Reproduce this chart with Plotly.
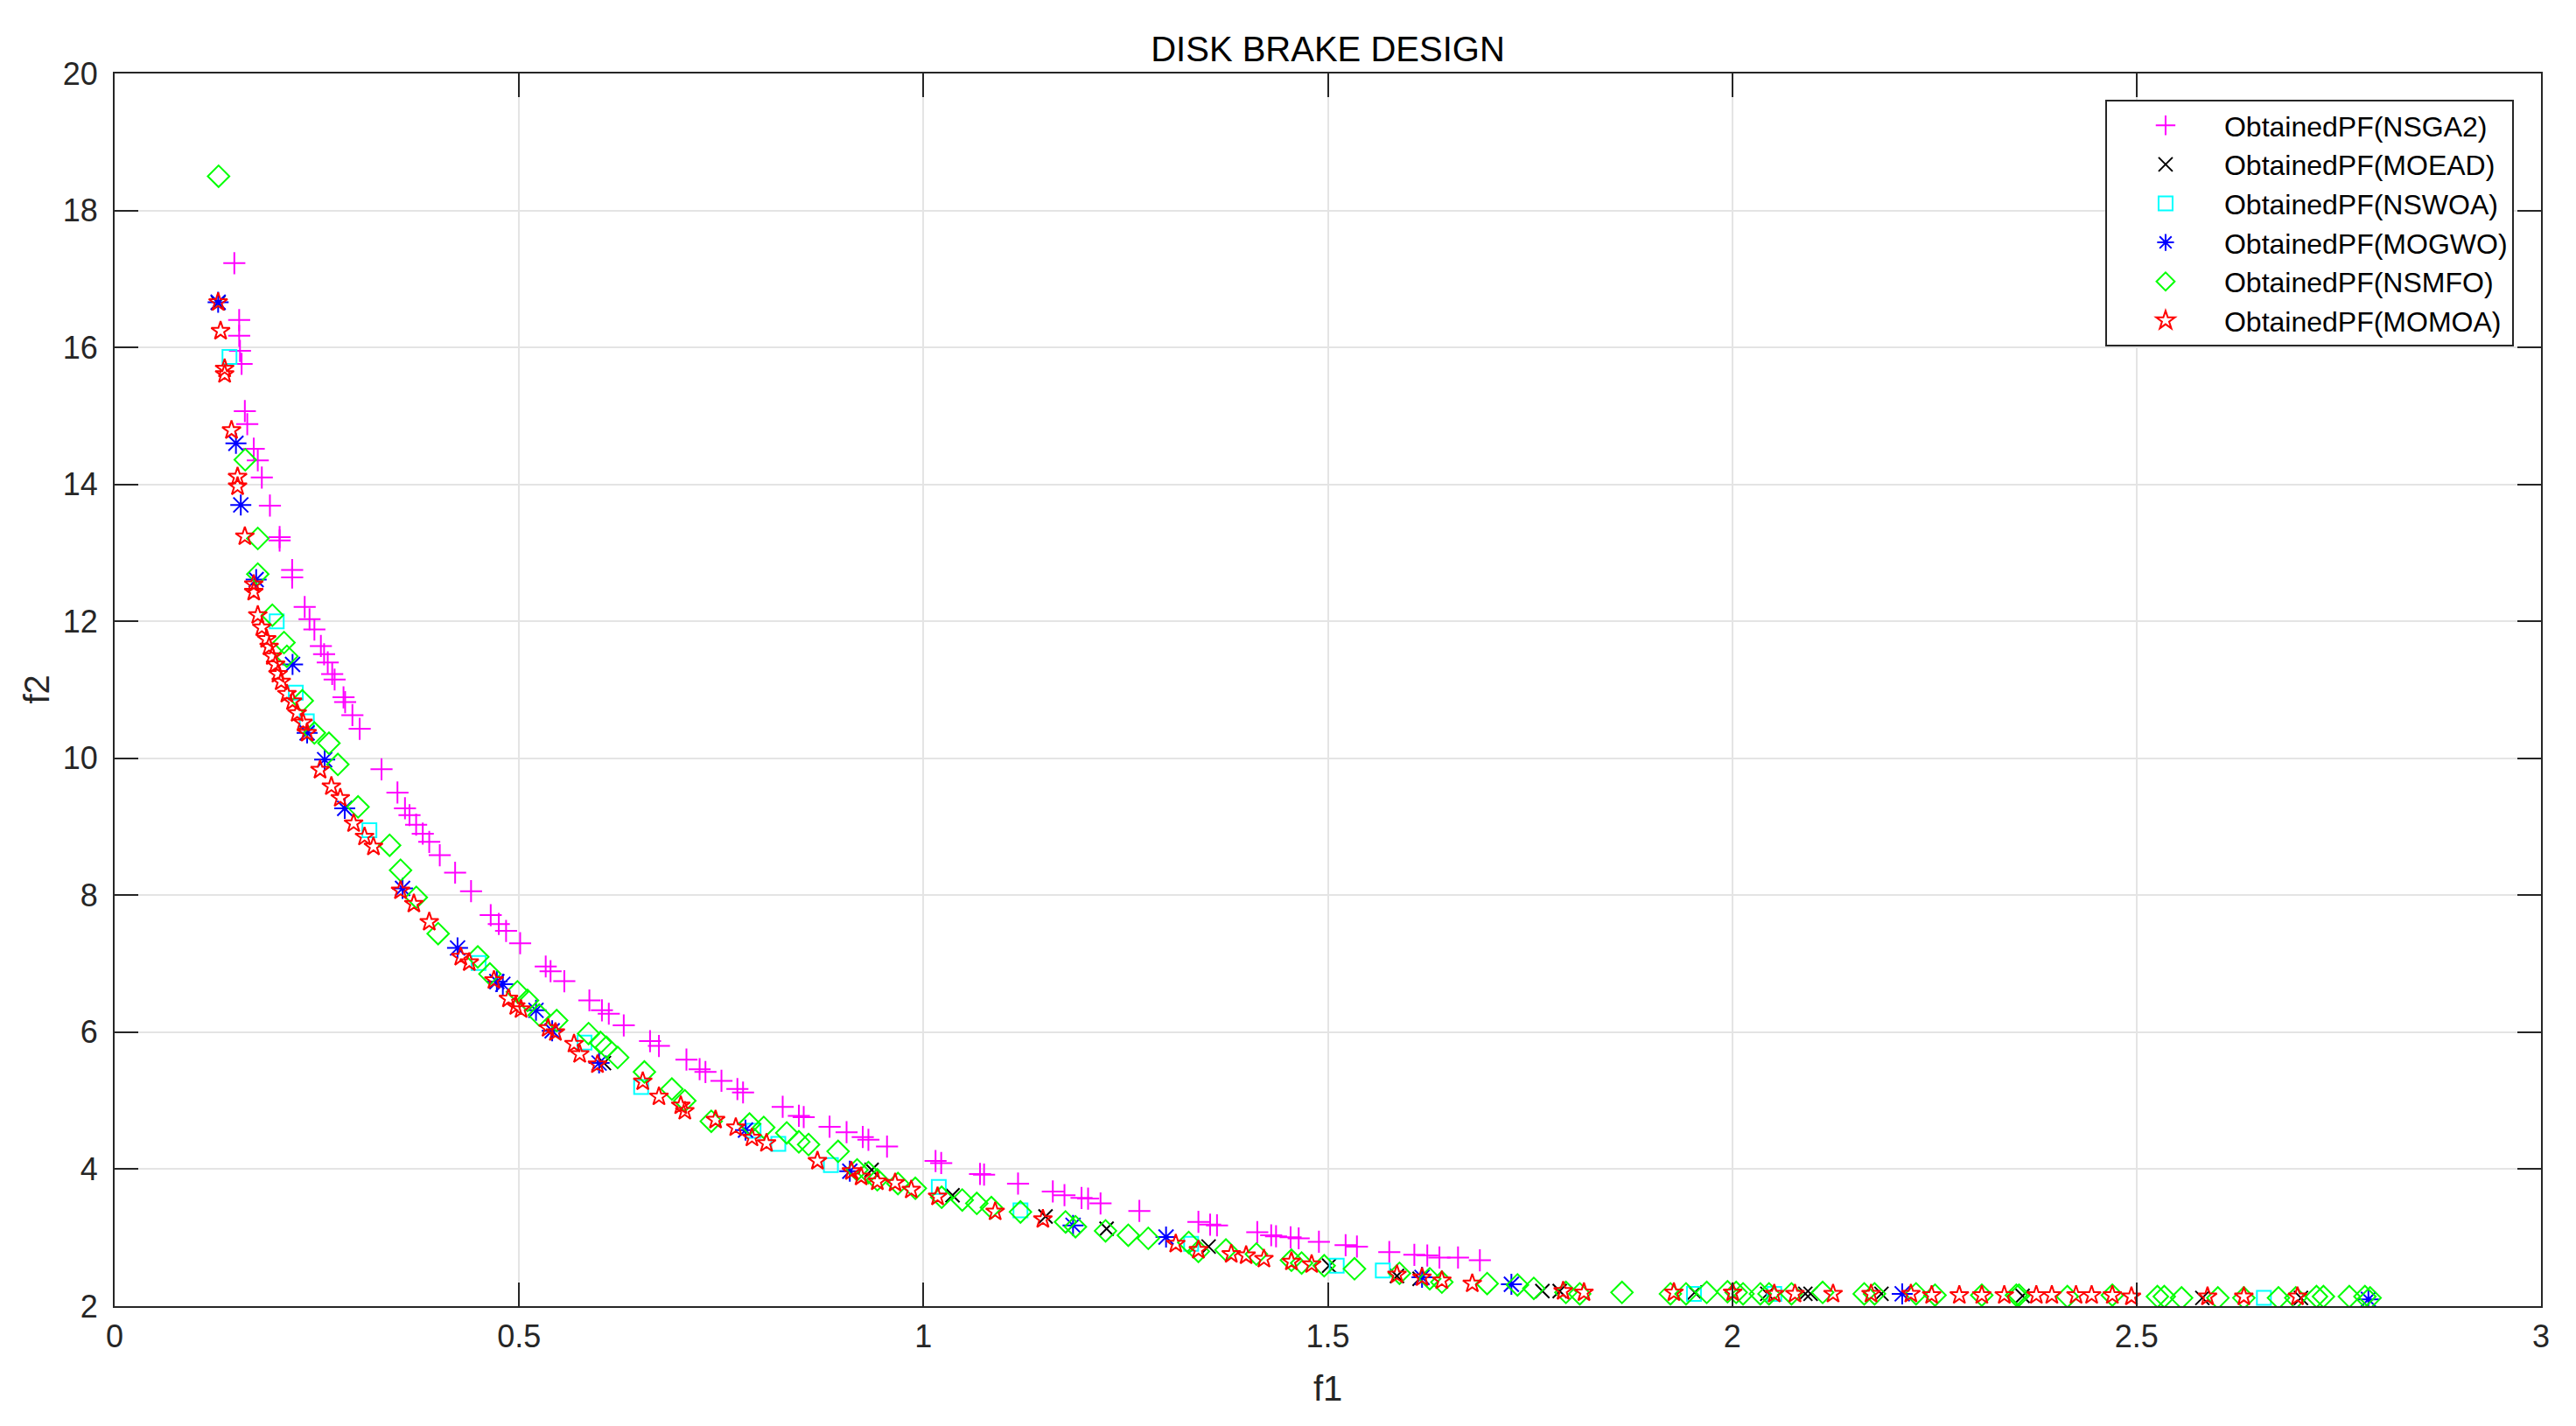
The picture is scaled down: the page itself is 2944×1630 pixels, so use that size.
import plotly.graph_objects as go

# ---------------- data ----------------
nsga2_f1 = [0.148, 0.154, 0.154, 0.155, 0.157, 0.161, 0.164, 0.172, 0.177, 0.182, 0.192, 0.204, 0.204,
            0.2195, 0.2195, 0.235, 0.241, 0.247, 0.255, 0.259, 0.2635, 0.269, 0.272, 0.283, 0.285, 0.294,
            0.303, 0.330, 0.3497, 0.359, 0.3646, 0.3728, 0.381, 0.389, 0.402, 0.421, 0.4407, 0.465, 0.475,
            0.484, 0.5014, 0.533, 0.539, 0.556, 0.587, 0.6025, 0.611, 0.6295, 0.662, 0.673, 0.707, 0.7233,
            0.7305, 0.7503, 0.770, 0.777, 0.826, 0.846, 0.852, 0.884, 0.905, 0.925, 0.932, 0.955, 1.015,
            1.022, 1.070, 1.075, 1.117, 1.160, 1.1744, 1.1955, 1.2036, 1.219, 1.267, 1.340, 1.3545, 1.363,
            1.4128, 1.430, 1.436, 1.454, 1.464, 1.489, 1.522, 1.536, 1.576, 1.607, 1.623, 1.638, 1.661, 1.688]
nsga2_f2 = [17.23, 16.40, 16.17, 15.95, 15.76, 15.07, 14.88, 14.52, 14.35, 14.10, 13.69, 13.23, 13.18,
            12.75, 12.64, 12.21, 12.03, 11.88, 11.64, 11.52, 11.40, 11.23, 11.15, 10.89, 10.82, 10.63,
            10.43, 9.84, 9.50, 9.27, 9.17, 9.03, 8.90, 8.78, 8.585, 8.33, 8.06, 7.71, 7.58,
            7.48, 7.30, 6.96, 6.89, 6.745, 6.465, 6.32, 6.27, 6.10, 5.87, 5.80, 5.60, 5.46,
            5.42, 5.29, 5.17, 5.12, 4.91, 4.78, 4.76, 4.62, 4.54, 4.47, 4.43, 4.33, 4.12,
            4.09, 3.93, 3.92, 3.79, 3.675, 3.62, 3.58, 3.57, 3.50, 3.39, 3.23, 3.19, 3.18,
            3.08, 3.035, 3.02, 3.005, 2.99, 2.94, 2.89, 2.87, 2.79, 2.75, 2.74, 2.71, 2.71, 2.67]

moead_f1 = [0.128, 0.605, 0.936, 1.036, 1.151, 1.2265, 1.3526, 1.5016, 1.5855, 1.6135, 1.7653, 1.7867,
            1.9536, 2.0434, 2.0904, 2.0969, 2.1845, 2.359, 2.5813, 2.7032]
moead_f2 = [16.65, 5.55, 3.99, 3.62, 3.31, 3.13, 2.87, 2.59, 2.44, 2.40, 2.22, 2.22,
            2.20, 2.18, 2.18, 2.18, 2.18, 2.15, 2.12, 2.12]

nswoa_f1 = [0.142, 0.2004, 0.224, 0.2376, 0.315, 0.450, 0.581, 0.651, 0.790, 0.8206, 0.8856, 1.019,
            1.12, 1.331, 1.511, 1.568, 1.9527, 2.052, 2.6574]
nswoa_f2 = [15.86, 12.0, 10.96, 10.54, 8.95, 7.01, 5.85, 5.20, 4.56, 4.37, 4.06, 3.74,
            3.40, 2.91, 2.59, 2.52, 2.18, 2.18, 2.12]

mogwo_f1 = [0.128, 0.150, 0.156, 0.175, 0.220, 0.238, 0.2597, 0.2845, 0.356, 0.424, 0.4726, 0.480,
            0.521, 0.541, 0.599, 0.78, 0.909, 1.185, 1.300, 1.6165, 1.727, 2.2102, 2.7866]
mogwo_f2 = [16.66, 14.60, 13.70, 12.61, 11.37, 10.37, 9.98, 9.27, 8.10, 7.23, 6.74, 6.70,
            6.32, 6.02, 5.55, 4.57, 3.97, 3.18, 3.01, 2.42, 2.32, 2.18, 2.10]

nsmfo_f1 = [0.1285, 0.1615, 0.177, 0.177, 0.195, 0.2094, 0.213, 0.232, 0.247, 0.265, 0.276, 0.301,
            0.340, 0.3535, 0.373, 0.400, 0.449, 0.464, 0.498, 0.5105, 0.525, 0.5466, 0.586, 0.6007,
            0.608, 0.622, 0.655, 0.689, 0.705, 0.7377, 0.785, 0.8026, 0.831, 0.846, 0.858, 0.8945,
            0.918, 0.932, 0.943, 0.9685, 0.990, 1.0226, 1.048, 1.066, 1.084, 1.120, 1.1757, 1.188,
            1.2252, 1.2533, 1.278, 1.328, 1.340, 1.374, 1.4117, 1.455, 1.4676, 1.4955, 1.533, 1.5886,
            1.626, 1.641, 1.697, 1.7345, 1.7547, 1.7944, 1.8115, 1.8637, 1.9236, 1.9429, 1.9685, 1.9942,
            2.0049, 2.0134, 2.0348, 2.0455, 2.0733, 2.1118, 2.1632, 2.176, 2.2273, 2.2508, 2.3086, 2.3513,
            2.3546, 2.4144, 2.470, 2.5257, 2.5342, 2.5556, 2.6005, 2.6326, 2.6754, 2.6968, 2.7224, 2.731,
            2.763, 2.7823, 2.7887]
nsmfo_f2 = [18.50, 14.36, 13.21, 12.69, 12.09, 11.69, 11.49, 10.84, 10.37, 10.22, 9.91, 9.29,
            8.73, 8.365, 7.97, 7.44, 7.10, 6.85, 6.59, 6.465, 6.25, 6.17, 5.98, 5.85,
            5.78, 5.63, 5.42, 5.17, 5.00, 4.70, 4.66, 4.61, 4.53, 4.40, 4.36, 4.26,
            3.99, 3.95, 3.845, 3.79, 3.72, 3.59, 3.55, 3.50, 3.44, 3.375, 3.23, 3.16,
            3.10, 3.035, 2.99, 2.93, 2.80, 2.82, 2.76, 2.67, 2.63, 2.59, 2.545, 2.48,
            2.40, 2.35, 2.33, 2.31, 2.26, 2.20, 2.18, 2.20, 2.18, 2.18, 2.20, 2.21,
            2.20, 2.18, 2.18, 2.18, 2.18, 2.20, 2.18, 2.18, 2.18, 2.16, 2.16, 2.16,
            2.16, 2.14, 2.16, 2.14, 2.14, 2.12, 2.12, 2.12, 2.12, 2.12, 2.14, 2.14,
            2.14, 2.14, 2.12]

momoa_f1 = [0.128, 0.131, 0.136, 0.136, 0.1445, 0.152, 0.152, 0.161, 0.172, 0.172, 0.177, 0.182,
            0.188, 0.191, 0.195, 0.199, 0.202, 0.206, 0.213, 0.220, 0.2257, 0.233, 0.238, 0.254,
            0.268, 0.279, 0.2955, 0.309, 0.320, 0.3535, 0.370, 0.389, 0.428, 0.4385, 0.469, 0.487,
            0.496, 0.5025, 0.536, 0.545, 0.568, 0.575, 0.597, 0.653, 0.673, 0.700, 0.705, 0.743,
            0.768, 0.788, 0.806, 0.869, 0.911, 0.923, 0.943, 0.965, 0.985, 1.0175, 1.0887, 1.1477,
            1.312, 1.340, 1.3806, 1.399, 1.421, 1.455, 1.480, 1.5855, 1.6165, 1.641, 1.6786, 1.791,
            1.8167, 1.9279, 2.0006, 2.052, 2.0776, 2.1247, 2.1717, 2.2209, 2.2466, 2.2808, 2.3086, 2.3364,
            2.376, 2.3952, 2.4251, 2.4444, 2.470, 2.4936, 2.5877, 2.6326, 2.6989]
momoa_f2 = [16.66, 16.24, 15.69, 15.61, 14.79, 14.11, 13.97, 13.24, 12.54, 12.43, 12.09, 11.91,
            11.74, 11.63, 11.49, 11.37, 11.23, 11.12, 10.94, 10.83, 10.66, 10.52, 10.37, 9.83,
            9.59, 9.42, 9.05, 8.855, 8.71, 8.07, 7.875, 7.61, 7.10, 7.02, 6.76, 6.49,
            6.38, 6.335, 6.06, 6.00, 5.83, 5.68, 5.53, 5.28, 5.06, 4.93, 4.85, 4.72,
            4.61, 4.46, 4.38, 4.12, 3.97, 3.89, 3.82, 3.80, 3.70, 3.60, 3.38, 3.27,
            2.91, 2.82, 2.76, 2.74, 2.69, 2.65, 2.61, 2.46, 2.42, 2.375, 2.33, 2.22,
            2.20, 2.20, 2.20, 2.18, 2.18, 2.18, 2.18, 2.18, 2.16, 2.16, 2.16, 2.16,
            2.16, 2.16, 2.16, 2.16, 2.16, 2.14, 2.14, 2.14, 2.14]

series_names = ["ObtainedPF(NSGA2)", "ObtainedPF(MOEAD)", "ObtainedPF(NSWOA)",
                "ObtainedPF(MOGWO)", "ObtainedPF(NSMFO)", "ObtainedPF(MOMOA)"]

x_ticks = [0, 0.5, 1, 1.5, 2, 2.5, 3]
x_tick_labels = ["0", "0.5", "1", "1.5", "2", "2.5", "3"]
y_ticks = [2, 4, 6, 8, 10, 12, 14, 16, 18, 20]
y_tick_labels = ["2", "4", "6", "8", "10", "12", "14", "16", "18", "20"]

# ---------------- styles ----------------
FONT = "Liberation Sans, Arial, Helvetica, sans-serif"
styles = [
    dict(symbol="cross-thin-open", color="#FF00FF", size=18),
    dict(symbol="x-thin-open", color="#000000", size=16),
    dict(symbol="square-open", color="#00FFFF", size=16),
    dict(symbol="asterisk-open", color="#0000FF", size=20),
    dict(symbol="diamond-open", color="#00FF00", size=19),
    dict(symbol="star-open", color="#FF0000", size=16),
]
data = [(nsga2_f1, nsga2_f2), (moead_f1, moead_f2), (nswoa_f1, nswoa_f2),
        (mogwo_f1, mogwo_f2), (nsmfo_f1, nsmfo_f2), (momoa_f1, momoa_f2)]

fig = go.Figure()
for name, (xs, ys), st in zip(series_names, data, styles):
    fig.add_trace(go.Scatter(
        x=xs, y=ys, mode="markers", name=name,
        marker=dict(symbol=st["symbol"], size=st["size"], color=st["color"],
                    line=dict(color=st["color"], width=2)),
    ))

axis_common = dict(
    showgrid=True, gridcolor="#e4e4e4", gridwidth=2,
    showline=True, linecolor="#262626", linewidth=2, mirror="ticks",
    ticks="inside", ticklen=27, tickwidth=2, tickcolor="#262626",
    zeroline=False, tickfont=dict(family=FONT, size=36, color="#262626"),
)

# page body has an 8 px margin, so the figure is 16 px smaller and margins shifted
W, H = 2928, 1614
fig.update_layout(
    width=W, height=H,
    margin=dict(l=123, r=32, t=76, b=129),
    paper_bgcolor="white", plot_bgcolor="white",
    title=dict(text="DISK BRAKE DESIGN", x=0.5, xref="paper", xanchor="center",
               y=1 - 48 / H, yanchor="middle",
               font=dict(family=FONT, size=40, color="#000000")),
    xaxis=dict(range=[0, 3], tickvals=x_ticks, ticktext=x_tick_labels,
               ticklabelstandoff=2, **axis_common),
    yaxis=dict(range=[2, 20], tickvals=y_ticks, ticktext=y_tick_labels,
               ticklabelstandoff=10, **axis_common),
    legend=dict(x=0.9888, y=0.9787, xanchor="right", yanchor="top",
                bgcolor="white", bordercolor="#262626", borderwidth=2,
                font=dict(family=FONT, size=32, color="#000000"),
                itemwidth=124, tracegroupgap=0),
    showlegend=True,
)

fig.add_annotation(text="f1", xref="paper", yref="paper", x=0.5, y=-(1587 - 1493) / 1409,
                   xanchor="center", yanchor="middle", showarrow=False,
                   font=dict(family=FONT, size=40, color="#262626"))
fig.add_annotation(text="f2", xref="paper", yref="paper", x=-(131 - 41) / 2773, y=0.5,
                   xanchor="center", yanchor="middle", showarrow=False, textangle=-90,
                   font=dict(family=FONT, size=40, color="#262626"))

fig.write_html("out.html")
